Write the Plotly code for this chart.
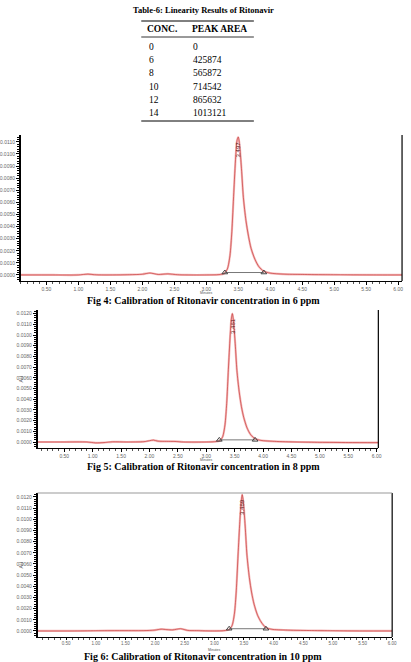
import plotly.graph_objects as go

W, H = 411, 662

# ---------------- table data ----------------
table_title = "Table-6: Linearity Results of Ritonavir"
table_headers = ["CONC.", "PEAK AREA"]
conc = [0, 6, 8, 10, 12, 14]
peak_area = [0, 425874, 565872, 714542, 865632, 1013121]

# ---------------- chromatogram data (minutes, AU) ----------------
t4 = [0.10, 0.60, 1.00, 1.15, 1.25, 1.40, 1.80, 2.00, 2.12, 2.25, 2.40, 2.55, 2.70, 3.00,
      3.20, 3.28, 3.33, 3.37, 3.40, 3.43, 3.46, 3.48, 3.50, 3.52, 3.55, 3.58, 3.62, 3.66,
      3.70, 3.76, 3.82, 3.90, 4.00, 4.20, 4.50, 4.90, 5.30, 5.70, 6.06]
a4 = [0.0, 0.0, 0.0, 0.00007, 0.00002, 0.0, 0.00002, 0.00006, 0.00016, 0.00004, 0.00009, 0.00002, 0.0, 0.0,
      0.00003, 0.00012, 0.0005, 0.0016, 0.0036, 0.0068, 0.0098, 0.0111, 0.0114, 0.0108, 0.0088, 0.0064, 0.0045, 0.0032,
      0.0022, 0.0013, 0.0007, 0.0003, 0.00015, 0.00007, 0.00004, 0.00002, 0.00001, 0.0, 0.0]

t5 = [0.03, 0.50, 0.90, 1.05, 1.20, 1.35, 1.60, 1.90, 2.00, 2.07, 2.15, 2.30, 2.45, 2.60, 3.00,
      3.15, 3.24, 3.29, 3.33, 3.36, 3.39, 3.42, 3.44, 3.46, 3.48, 3.51, 3.54, 3.58, 3.62,
      3.66, 3.72, 3.78, 3.86, 3.96, 4.20, 4.60, 5.00, 5.50, 6.03]
a5 = [0.0, 0.0, 0.0, -0.00008, -0.00005, 0.00002, 0.0, 0.00003, 0.00012, 0.00018, 0.00008, 0.00006, 0.00005, 0.0, 0.0,
      0.00003, 0.00012, 0.0005, 0.0016, 0.0036, 0.0068, 0.0098, 0.0114, 0.0120, 0.0113, 0.0092, 0.0067, 0.0047, 0.0033,
      0.0023, 0.0013, 0.0007, 0.0003, 0.00015, 0.00006, 0.0, -0.00003, -0.00005, -0.00006]

t6 = [0.02, 0.60, 1.00, 1.40, 1.80, 2.00, 2.10, 2.20, 2.30, 2.43, 2.55, 2.70, 3.00,
      3.16, 3.25, 3.30, 3.34, 3.37, 3.40, 3.43, 3.45, 3.47, 3.49, 3.52, 3.55, 3.59, 3.63,
      3.67, 3.73, 3.79, 3.87, 3.97, 4.20, 4.60, 5.00, 5.50, 6.00]
a6 = [0.0, 0.0, 0.00002, 0.00003, 0.00003, 0.00008, 0.00016, 0.00012, 0.00010, 0.00020, 0.00005, 0.00003, 0.0,
      0.00003, 0.00012, 0.0005, 0.0016, 0.0036, 0.0068, 0.0098, 0.0114, 0.0122, 0.0115, 0.0094, 0.0068, 0.0048, 0.0034,
      0.0024, 0.0014, 0.0008, 0.0003, 0.00015, 0.00008, 0.00004, 0.00002, 0.0, 0.0]

retention = [3.50, 3.46, 3.47]
rt_labels = ["3.497", "3.461", "3.469"]
peak_start = [3.29, 3.23, 3.25]
peak_end = [3.90, 3.86, 3.87]

captions = ["Fig 4: Calibration of Ritonavir concentration in 6 ppm",
            "Fig 5: Calibration of Ritonavir concentration in 8 ppm",
            "Fig 6: Calibration of Ritonavir concentration in 10 ppm"]


def px_x(x):
    return x / W


def px_y(y):
    return 1 - y / H


fig = go.Figure()

panels = [
    dict(t=t4, a=a4, xd=(21, 407), yd=(135, 281), xr=(0.10, 6.06), yr=(-0.0005, 0.01157), ymax=0.011,
         title=False, top=False, mshift=-8, tlen=3, tfs=5),
    dict(t=t5, a=a5, xd=(38, 383), yd=(310, 448), xr=(0.03, 6.03), yr=(-0.00056, 0.01234), ymax=0.012,
         title=True, top=False, mshift=-8, tlen=3, tfs=5),
    dict(t=t6, a=a6, xd=(38, 397), yd=(493, 637), xr=(0.017, 6.0), yr=(-0.00054, 0.01235), ymax=0.012,
         title=True, top=True, mshift=-8.5, tlen=2, tfs=4.5),
]

shapes = []
annotations = []

for i, p in enumerate(panels):
    n = "" if i == 0 else str(i + 1)
    xa, ya = "x" + n, "y" + n
    # halo
    fig.add_trace(go.Scatter(x=p["t"], y=p["a"], mode="lines", xaxis=xa, yaxis=ya,
                             line=dict(color="rgba(236,130,130,0.55)", width=2.2, shape="spline", smoothing=0.7),
                             hoverinfo="skip"))
    # core
    fig.add_trace(go.Scatter(x=p["t"], y=p["a"], mode="lines", xaxis=xa, yaxis=ya,
                             line=dict(color="#c02828", width=0.6, shape="spline", smoothing=0.7),
                             hoverinfo="skip"))
    # baseline of integration + triangles
    fig.add_trace(go.Scatter(x=[peak_start[i], peak_end[i]], y=[0.0002, 0.0002], mode="lines+markers",
                             xaxis=xa, yaxis=ya,
                             line=dict(color="#777777", width=1),
                             marker=dict(symbol="triangle-up-open", size=5, color="#444444",
                                         line=dict(width=1, color="#444444")),
                             hoverinfo="skip"))
    # retention time label
    annotations.append(dict(x=retention[i], y=max(p["a"]) * 0.985, xref=xa, yref=ya,
                            text=rt_labels[i], textangle=-90, showarrow=False,
                            xanchor="center", yanchor="top",
                            font=dict(size=6, color="#5a2020", family="Liberation Sans")))

    xdom = [px_x(p["xd"][0]), px_x(p["xd"][1])]
    ydom = [px_y(p["yd"][1]), px_y(p["yd"][0])]
    yt = [round(k * 0.001, 4) for k in range(0, int(round(p["ymax"] / 0.001)) + 1)]
    fig.update_layout(**{
        "xaxis" + n: dict(domain=xdom, range=list(p["xr"]), anchor=ya,
                          tickmode="array", tickvals=[0.5 * k for k in range(1, 13)],
                          ticktext=["%.2f" % (0.5 * k) for k in range(1, 13)],
                          ticks="outside", ticklen=p["tlen"], tickcolor="#000",
                          minor=dict(ticks="outside", ticklen=1.5, dtick=0.1, tickcolor="#555"),
                          tickfont=dict(size=p["tfs"], color="#666", family="Liberation Sans"),
                          showline=True, linecolor="#000", linewidth=1,
                          showgrid=False, zeroline=False, fixedrange=True),
        "yaxis" + n: dict(domain=ydom, range=list(p["yr"]), anchor=xa,
                          tickmode="array", tickvals=yt, ticktext=["%.4f" % v for v in yt],
                          ticks="outside", ticklen=3, tickcolor="#000",
                          minor=dict(ticks="outside", ticklen=1.5, dtick=0.0002, tickcolor="#000"),
                          tickfont=dict(size=5, color="#666", family="Liberation Sans"),
                          showline=True, linecolor="#000", linewidth=1.5,
                          showgrid=False, zeroline=False, fixedrange=True),
    })
    # right border
    shapes.append(dict(type="line", xref=xa + " domain", yref=ya + " domain",
                       x0=1, x1=1, y0=0, y1=1, line=dict(color="#000", width=1.2)))
    if p["top"]:
        shapes.append(dict(type="line", xref=xa + " domain", yref=ya + " domain",
                           x0=0, x1=1, y0=1, y1=1, line=dict(color="#999", width=1)))
    # Minutes label
    annotations.append(dict(x=3.0, y=0, xref=xa, yref=ya + " domain", yshift=p["mshift"],
                            text="Minutes", showarrow=False, yanchor="top",
                            font=dict(size=3.5, color="#555", family="Liberation Sans")))
    if p["title"]:
        annotations.append(dict(x=0, y=0.5, xref=xa + " domain", yref=ya + " domain", xshift=-22,
                                text="AU", textangle=-90, showarrow=False,
                                font=dict(size=5, color="#555", family="Liberation Sans")))

# captions
cap_y = [300, 466, 656.5]
for c, yy in zip(captions, cap_y):
    annotations.append(dict(x=0.5, y=px_y(yy), xref="paper", yref="paper", text="<b>%s</b>" % c,
                            showarrow=False, xanchor="center", yanchor="middle",
                            font=dict(size=10, color="#000", family="Liberation Serif")))

# table
annotations.append(dict(x=0.5, y=px_y(10), xref="paper", yref="paper", text="<b>%s</b>" % table_title,
                        showarrow=False, xanchor="center", yanchor="middle",
                        font=dict(size=8.5, color="#000", family="Liberation Serif")))
col_x = [147, 192]
for cx, h in zip(col_x, table_headers):
    annotations.append(dict(x=px_x(cx), y=px_y(29), xref="paper", yref="paper", text="<b>%s</b>" % h,
                            showarrow=False, xanchor="left", yanchor="middle",
                            font=dict(size=9.5, color="#000", family="Liberation Serif")))
row_y0, row_dy = 47, 13.2
for r, (c, a) in enumerate(zip(conc, peak_area)):
    yy = row_y0 + r * row_dy
    annotations.append(dict(x=px_x(149), y=px_y(yy), xref="paper", yref="paper", text=str(c),
                            showarrow=False, xanchor="left", yanchor="middle",
                            font=dict(size=9.5, color="#000", family="Liberation Serif")))
    annotations.append(dict(x=px_x(193), y=px_y(yy), xref="paper", yref="paper", text=str(a),
                            showarrow=False, xanchor="left", yanchor="middle",
                            font=dict(size=9.5, color="#000", family="Liberation Serif")))
for ly, lw in [(21, 1), (37, 0.8), (121, 1)]:
    shapes.append(dict(type="line", xref="paper", yref="paper", x0=px_x(143), x1=px_x(257),
                       y0=px_y(ly), y1=px_y(ly), line=dict(color="#000", width=lw)))

fig.update_layout(width=W, height=H, margin=dict(l=0, r=0, t=0, b=0),
                  paper_bgcolor="white", plot_bgcolor="white", showlegend=False,
                  shapes=shapes, annotations=annotations)

fig.write_html("out.html", config={"displayModeBar": False})
